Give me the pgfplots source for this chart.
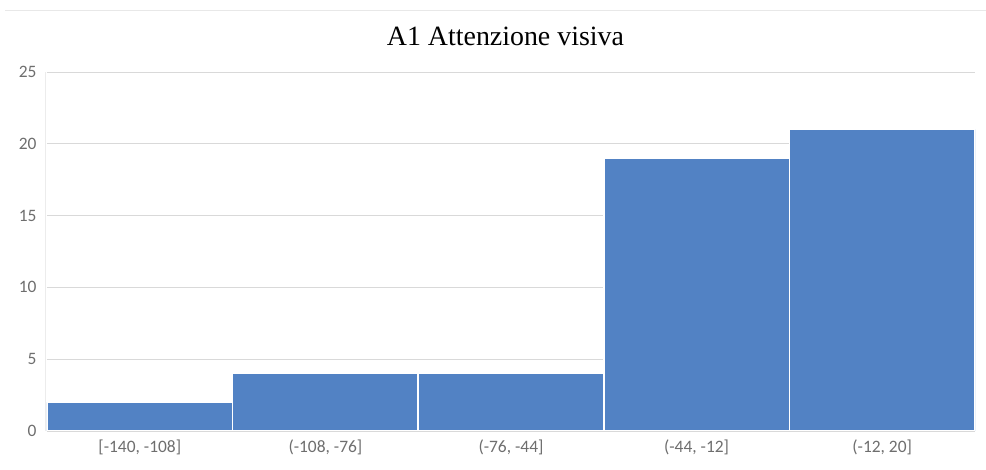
\documentclass[border=0pt]{standalone}
\usepackage{pgfplots}
\pgfplotsset{compat=1.18}
\usepackage{fontspec}
\setmainfont{Liberation Serif}
\newfontfamily\tickfont{Carlito}
\definecolor{barblue}{RGB}{82,130,196}
\definecolor{gridgray}{RGB}{217,217,217}
\definecolor{ticktext}{RGB}{110,110,110}
\begin{document}
\begin{tikzpicture}
\useasboundingbox (-47bp,-39bp) rectangle (939bp,431bp);
\draw[gridgray!60, line width=0.8bp] (-42bp,421bp) -- (939bp,421bp);
\draw[gridgray!50, line width=0.6bp] (-2bp,0bp) -- (-2bp,359bp);
\begin{axis}[at={(0,0)}, anchor=south west, scale only axis, width=928bp, height=359bp,
  xmin=-0.5, xmax=4.5, ymin=0, ymax=25, ytick={0,5,...,25}, xtick={0,...,4},
  xticklabels={{[-140, -108]},{(-108, -76]},{(-76, -44]},{(-44, -12]},{(-12, 20]}},
  ybar, bar width=1,
  axis line style={draw=none}, major tick length=0pt,
  ymajorgrids, grid style={gridgray, line width=0.8bp},
  tick label style={font=\tickfont\fontsize{17.5}{20}\selectfont, text=ticktext},
  /pgf/number format/assume math mode=true,
  yticklabel style={xshift=-7bp},
  xticklabel style={yshift=-5bp},
  title={A1 Attenzione visiva},
  title style={font=\fontsize{28}{32}\selectfont, at={(axis description cs:0.494,1.0836)}, anchor=center}
]
\addplot[fill=barblue, draw=white, line width=1.5bp] coordinates {(0,2) (1,4) (2,4) (3,19) (4,21)};
\end{axis}
\end{tikzpicture}
\end{document}
